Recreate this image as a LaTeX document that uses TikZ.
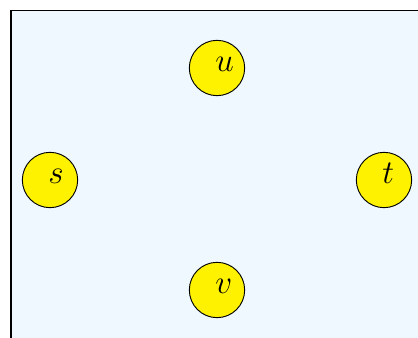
\documentclass[tikz,border=0pt]{standalone}
\usepackage{tikz}
\usetikzlibrary{positioning}
\definecolor{bgblue}{RGB}{239,247,255}

\begin{document}
\begin{tikzpicture}[
  x=0.75pt, y=0.75pt,
  vertex/.style={circle, draw, line width=0.7pt, fill=yellow, minimum size=41.5pt, inner sep=0pt},
  vname/.style={anchor=base west, font=\fontsize{33}{38}\selectfont, inner sep=0pt,
                xshift=-1.5pt, yshift=-2.5pt}
]
  \useasboundingbox (0,0) rectangle (418,338);
  \clip (0,0) rectangle (418,338);
  % frame around the graph
  \draw[fill=bgblue, line width=0.8pt] (11,-20) rectangle (440,327.5);

  \node[vertex] (u) at (217,270) {};
  \node[vertex] (s) at (50,158) {};
  \node[vertex] (t) at (384,158) {};
  \node[vertex] (v) at (217,48) {};

  % vertex names
  \node[vname] (u-name) at (u.center) {$u$};
  \node[vname] (s-name) at (s.center) {$s$};
  \node[vname] (t-name) at (t.center) {$t$};
  \node[vname] (v-name) at (v.center) {$v$};
\end{tikzpicture}
\end{document}
